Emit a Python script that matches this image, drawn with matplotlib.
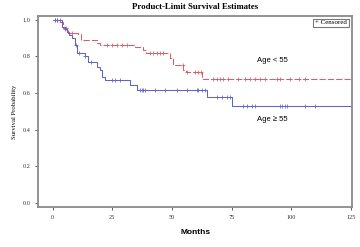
import matplotlib.pyplot as plt
import numpy as np

# step curves (time, survival)
young_t = [0, 2.5, 4.5, 6.5, 10.5, 12, 18.4, 20, 34.5, 38, 39, 49, 50.6, 54.8, 56, 62.5, 127]
young_s = [1.0, 0.99, 0.953, 0.93, 0.92, 0.889, 0.875, 0.862, 0.85, 0.835, 0.817, 0.79, 0.753, 0.726, 0.713, 0.676, 0.676]

old_t = [0, 3.8, 5, 5.9, 7, 8, 9.3, 10.3, 13.5, 15, 18.4, 19.8, 20.5, 22, 32.4, 35.2, 64.6, 75, 127]
old_s = [1.0, 0.96, 0.95, 0.935, 0.915, 0.898, 0.862, 0.817, 0.8, 0.77, 0.744, 0.726, 0.689, 0.671, 0.644, 0.616, 0.58, 0.529, 0.529]

young_cens = [1, 2, 5.5, 8, 22.6, 24.7, 26.8, 28.9, 31, 40.8, 42.2, 43.6, 45, 46.4, 54.5, 56.5, 59.7, 61, 62,
              67.3, 68.8, 70.1, 71.5, 73.6, 77.8, 80.6, 82.7, 84.8, 86.9, 89, 93.9, 95.3, 99.5, 103, 105.8]
old_cens = [1, 2, 3, 5, 10, 11, 13.5, 16, 24.7, 26.1, 28.2, 36.6, 37.3, 38, 38.7, 42.9, 47.1, 52, 56.2,
            60.4, 61, 62.5, 63.9, 68.8, 70.9, 73, 74.3, 79.9, 81.3, 83.4, 84.8, 95.3, 96, 97.4, 98.1, 105.8, 110]

red = '#dc5c66'
blue = '#6064c4'


def surv_at(t, times, surv):
    idx = np.searchsorted(times, t, side='right') - 1
    return np.array(surv)[idx]


fig = plt.figure(figsize=(3.6, 2.47), dpi=100)
ax = fig.add_axes([0.1056, 0.162, 0.8735, 0.773])

ax.step(young_t, young_s, where='post', color=red, lw=0.75, dashes=(6, 2))
ax.step(old_t, old_s, where='post', color=blue, lw=0.75)
ax.plot(young_cens, surv_at(young_cens, young_t, young_s), '+', color=red, ms=3.5, mew=0.55)
ax.plot(old_cens, surv_at(old_cens, old_t, old_s), '+', color=blue, ms=3.5, mew=0.55)

ax.set_xlim(-6.1, 125.6)
ax.set_ylim(-0.022, 1.02)
ax.set_xticks([0, 25, 50, 75, 100, 125])
ax.set_yticks([0.0, 0.2, 0.4, 0.6, 0.8, 1.0])
ax.set_yticklabels(['0.0', '0.2', '0.4', '0.6', '0.8', '1.0'])
ax.tick_params(labelsize=4.5, length=2.5, width=0.6, color='#444444', labelcolor='#333333', pad=3)
for lab in ax.get_xticklabels() + ax.get_yticklabels():
    lab.set_family('Liberation Serif')
for sp in ax.spines.values():
    sp.set_color('#8a8a8a')
    sp.set_linewidth(1.3)

ax.text(92, 0.78, 'Age < 55', fontsize=5.5, family='Liberation Sans', ha='center', va='center')
ax.text(92, 0.458, 'Age \u2265 55', fontsize=5.5, family='Liberation Sans', ha='center', va='center')

ax.text(0.982, 0.965, '+ Censored', transform=ax.transAxes, fontsize=5, family='Liberation Serif',
        ha='right', va='center',
        bbox=dict(boxstyle='square,pad=0.25', fc='white', ec='#777777', lw=0.8))

ax.set_ylabel('Survival Probability', fontsize=4.8, family='Liberation Serif', labelpad=4)
fig.text(0.543, 0.06, 'Months', fontsize=6, family='Liberation Sans', fontweight='bold', ha='center', va='center')
fig.text(0.543, 0.97, 'Product-Limit Survival Estimates', fontsize=6.3, family='Liberation Serif',
         fontweight='bold', ha='center', va='center')

fig.savefig('out.png', dpi=100)
